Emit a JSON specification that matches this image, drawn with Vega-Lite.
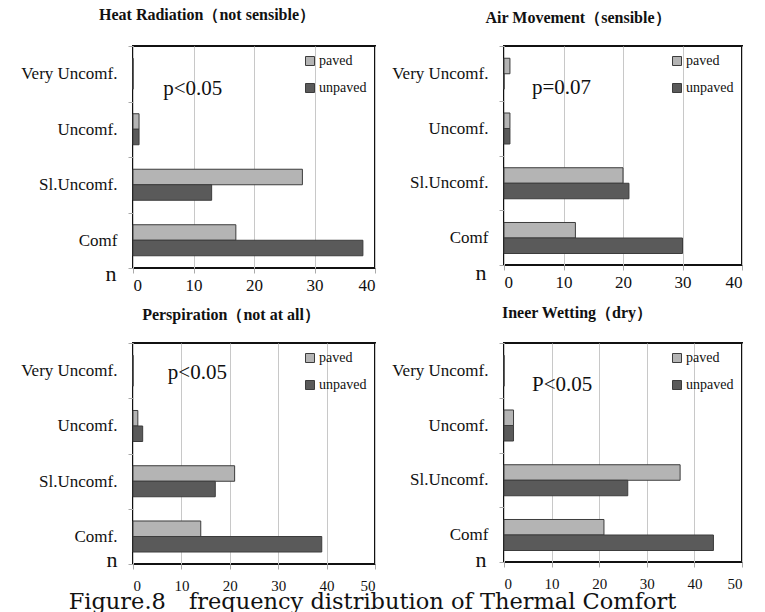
{
  "$schema": "https://vega.github.io/schema/vega-lite/v6.json",
  "background": "white",
  "padding": {"left": 19, "top": 6, "right": 0, "bottom": 0},
  "datasets": {
    "bars": [
      {"panel": "heat", "rating": "Very Uncomf.", "surface": "paved", "n": 0},
      {"panel": "heat", "rating": "Very Uncomf.", "surface": "unpaved", "n": 0},
      {"panel": "heat", "rating": "Uncomf.", "surface": "paved", "n": 1},
      {"panel": "heat", "rating": "Uncomf.", "surface": "unpaved", "n": 1},
      {"panel": "heat", "rating": "Sl.Uncomf.", "surface": "paved", "n": 28},
      {"panel": "heat", "rating": "Sl.Uncomf.", "surface": "unpaved", "n": 13},
      {"panel": "heat", "rating": "Comf", "surface": "paved", "n": 17},
      {"panel": "heat", "rating": "Comf", "surface": "unpaved", "n": 38},
      {"panel": "air", "rating": "Very Uncomf.", "surface": "paved", "n": 1},
      {"panel": "air", "rating": "Very Uncomf.", "surface": "unpaved", "n": 0},
      {"panel": "air", "rating": "Uncomf.", "surface": "paved", "n": 1},
      {"panel": "air", "rating": "Uncomf.", "surface": "unpaved", "n": 1},
      {"panel": "air", "rating": "Sl.Uncomf.", "surface": "paved", "n": 20},
      {"panel": "air", "rating": "Sl.Uncomf.", "surface": "unpaved", "n": 21},
      {"panel": "air", "rating": "Comf", "surface": "paved", "n": 12},
      {"panel": "air", "rating": "Comf", "surface": "unpaved", "n": 30},
      {"panel": "persp", "rating": "Very Uncomf.", "surface": "paved", "n": 0},
      {"panel": "persp", "rating": "Very Uncomf.", "surface": "unpaved", "n": 0},
      {"panel": "persp", "rating": "Uncomf.", "surface": "paved", "n": 1},
      {"panel": "persp", "rating": "Uncomf.", "surface": "unpaved", "n": 2},
      {"panel": "persp", "rating": "Sl.Uncomf.", "surface": "paved", "n": 21},
      {"panel": "persp", "rating": "Sl.Uncomf.", "surface": "unpaved", "n": 17},
      {"panel": "persp", "rating": "Comf.", "surface": "paved", "n": 14},
      {"panel": "persp", "rating": "Comf.", "surface": "unpaved", "n": 39},
      {"panel": "wet", "rating": "Very Uncomf.", "surface": "paved", "n": 0},
      {"panel": "wet", "rating": "Very Uncomf.", "surface": "unpaved", "n": 0},
      {"panel": "wet", "rating": "Uncomf.", "surface": "paved", "n": 2},
      {"panel": "wet", "rating": "Uncomf.", "surface": "unpaved", "n": 2},
      {"panel": "wet", "rating": "Sl.Uncomf.", "surface": "paved", "n": 37},
      {"panel": "wet", "rating": "Sl.Uncomf.", "surface": "unpaved", "n": 26},
      {"panel": "wet", "rating": "Comf", "surface": "paved", "n": 21},
      {"panel": "wet", "rating": "Comf", "surface": "unpaved", "n": 44}
    ],
    "notes": [
      {"panel": "heat", "label": "p<0.05", "n": 5, "rating": "Very Uncomf."},
      {"panel": "air", "label": "p=0.07", "n": 4.7, "rating": "Very Uncomf."},
      {"panel": "persp", "label": "p<0.05", "n": 7.2, "rating": "Very Uncomf."},
      {"panel": "wet", "label": "P<0.05", "n": 5.9, "rating": "Very Uncomf."}
    ]
  },
  "columns": 2,
  "bounds": "flush",
  "spacing": {"row": 75, "column": 129},
  "resolve": {"scale": {"color": "independent", "x": "independent", "y": "independent"}, "legend": {"color": "independent"}},
  "concat": [
    {
      "title": {"text": "Heat Radiation（not sensible）", "frame": "group", "anchor": "middle", "offset": 14, "dx": -47},
      "width": 242,
      "height": 222,
      "layer": [
        {
          "data": {"name": "bars"},
          "transform": [{"filter": "datum.panel === 'heat'"}],
          "mark": {"type": "bar", "stroke": "#3c3c3c", "strokeWidth": 1},
          "encoding": {
            "y": {"field": "rating", "type": "nominal", "scale": {"domain": ["Very Uncomf.", "Uncomf.", "Sl.Uncomf.", "Comf"], "paddingInner": 0, "paddingOuter": 0},
              "axis": {"title": "n", "titleX": -28, "titleY": 234}},
            "yOffset": {"field": "surface", "type": "nominal", "scale": {"domain": ["paved", "unpaved"], "paddingInner": 0, "paddingOuter": 0.79}},
            "x": {"field": "n", "type": "quantitative", "scale": {"domain": [0, 40]}, "axis": {"values": [0, 10, 20, 30, 40], "labelFontSize": 17, "labelPadding": 4, "title": null}},
            "color": {"field": "surface", "type": "nominal", "scale": {"domain": ["paved", "unpaved"], "range": ["#b4b4b4", "#5a5a5a"]}, "legend": {"title": null}}
          }
        },
        {
          "data": {"name": "notes"},
          "transform": [{"filter": "datum.panel === 'heat'"}],
          "mark": {"type": "text", "align": "left", "baseline": "middle", "dy": 15, "fontSize": 21, "fill": "#111"},
          "encoding": {
            "x": {"field": "n", "type": "quantitative"},
            "y": {"field": "rating", "type": "nominal"},
            "text": {"field": "label"}
          }
        }
      ]
    },
    {
      "title": {"text": "Air Movement（sensible）", "frame": "group", "anchor": "middle", "offset": 11, "dx": -45},
      "width": 238,
      "height": 219,
      "layer": [
        {
          "data": {"name": "bars"},
          "transform": [{"filter": "datum.panel === 'air'"}],
          "mark": {"type": "bar", "stroke": "#3c3c3c", "strokeWidth": 1},
          "encoding": {
            "y": {"field": "rating", "type": "nominal", "scale": {"domain": ["Very Uncomf.", "Uncomf.", "Sl.Uncomf.", "Comf"], "paddingInner": 0, "paddingOuter": 0},
              "axis": {"title": "n", "titleX": -29, "titleY": 233}},
            "yOffset": {"field": "surface", "type": "nominal", "scale": {"domain": ["paved", "unpaved"], "paddingInner": 0, "paddingOuter": 0.79}},
            "x": {"field": "n", "type": "quantitative", "scale": {"domain": [0, 40]}, "axis": {"values": [0, 10, 20, 30, 40], "labelFontSize": 17, "labelPadding": 4, "title": null}},
            "color": {"field": "surface", "type": "nominal", "scale": {"domain": ["paved", "unpaved"], "range": ["#b4b4b4", "#5a5a5a"]}, "legend": {"title": null}}
          }
        },
        {
          "data": {"name": "notes"},
          "transform": [{"filter": "datum.panel === 'air'"}],
          "mark": {"type": "text", "align": "left", "baseline": "middle", "dy": 15, "fontSize": 21, "fill": "#111"},
          "encoding": {
            "x": {"field": "n", "type": "quantitative"},
            "y": {"field": "rating", "type": "nominal"},
            "text": {"field": "label"}
          }
        }
      ]
    },
    {
      "title": {"text": "Perspiration（not at all）", "frame": "group", "anchor": "middle", "offset": 11, "dx": -23},
      "width": 242,
      "height": 221,
      "layer": [
        {
          "data": {"name": "bars"},
          "transform": [{"filter": "datum.panel === 'persp'"}],
          "mark": {"type": "bar", "stroke": "#3c3c3c", "strokeWidth": 1},
          "encoding": {
            "y": {"field": "rating", "type": "nominal", "scale": {"domain": ["Very Uncomf.", "Uncomf.", "Sl.Uncomf.", "Comf."], "paddingInner": 0, "paddingOuter": 0},
              "axis": {"title": "n", "titleX": -27, "titleY": 223}},
            "yOffset": {"field": "surface", "type": "nominal", "scale": {"domain": ["paved", "unpaved"], "paddingInner": 0, "paddingOuter": 0.79}},
            "x": {"field": "n", "type": "quantitative", "scale": {"domain": [0, 50]},
              "axis": {"values": [0, 10, 20, 30, 40, 50], "labelFontSize": 15, "labelPadding": 9,
                "title": "Figure.8　frequency distribution of Thermal Comfort", "titleX": 239, "titleY": 44, "titleAlign": "center", "titleBaseline": "alphabetic",
                "titleFont": "DejaVu Serif", "titleFontSize": 22.5, "titleFontWeight": "normal", "titleColor": "#111"}},
            "color": {"field": "surface", "type": "nominal", "scale": {"domain": ["paved", "unpaved"], "range": ["#b4b4b4", "#5a5a5a"]}, "legend": {"title": null}}
          }
        },
        {
          "data": {"name": "notes"},
          "transform": [{"filter": "datum.panel === 'persp'"}],
          "mark": {"type": "text", "align": "left", "baseline": "middle", "dy": 2, "fontSize": 21, "fill": "#111"},
          "encoding": {
            "x": {"field": "n", "type": "quantitative"},
            "y": {"field": "rating", "type": "nominal"},
            "text": {"field": "label"}
          }
        }
      ]
    },
    {
      "title": {"text": "Ineer Wetting（dry）", "frame": "group", "anchor": "middle", "offset": 13, "dx": -46},
      "width": 238,
      "height": 219,
      "layer": [
        {
          "data": {"name": "bars"},
          "transform": [{"filter": "datum.panel === 'wet'"}],
          "mark": {"type": "bar", "stroke": "#3c3c3c", "strokeWidth": 1},
          "encoding": {
            "y": {"field": "rating", "type": "nominal", "scale": {"domain": ["Very Uncomf.", "Uncomf.", "Sl.Uncomf.", "Comf"], "paddingInner": 0, "paddingOuter": 0},
              "axis": {"title": "n", "titleX": -29, "titleY": 223}},
            "yOffset": {"field": "surface", "type": "nominal", "scale": {"domain": ["paved", "unpaved"], "paddingInner": 0, "paddingOuter": 0.79}},
            "x": {"field": "n", "type": "quantitative", "scale": {"domain": [0, 50]}, "axis": {"values": [0, 10, 20, 30, 40, 50], "labelFontSize": 15, "labelPadding": 9, "title": null}},
            "color": {"field": "surface", "type": "nominal", "scale": {"domain": ["paved", "unpaved"], "range": ["#b4b4b4", "#5a5a5a"]}, "legend": {"title": null}}
          }
        },
        {
          "data": {"name": "notes"},
          "transform": [{"filter": "datum.panel === 'wet'"}],
          "mark": {"type": "text", "align": "left", "baseline": "middle", "dy": 15, "fontSize": 21, "fill": "#111"},
          "encoding": {
            "x": {"field": "n", "type": "quantitative"},
            "y": {"field": "rating", "type": "nominal"},
            "text": {"field": "label"}
          }
        }
      ]
    }
  ],
  "config": {
    "font": "Liberation Serif",
    "view": {"stroke": "#111", "strokeWidth": 2},
    "title": {"font": "Liberation Serif", "fontSize": 16, "fontWeight": "bold", "color": "#111"},
    "axis": {
      "domain": false,
      "tickColor": "#aaaaaa",
      "tickSize": 5,
      "labelFont": "Liberation Serif",
      "labelColor": "#111",
      "gridColor": "#c8c8c8",
      "gridWidth": 1
    },
    "axisX": {"grid": true, "labelAngle": 0},
    "axisY": {
      "grid": false,
      "tickBand": "extent",
      "labelFontSize": 17,
      "labelPadding": 11,
      "titleAngle": 0,
      "titleAlign": "left",
      "titleBaseline": "alphabetic",
      "titleFont": "Liberation Serif",
      "titleFontSize": 22,
      "titleFontWeight": "normal",
      "titleColor": "#111"
    },
    "legend": {
      "orient": "top-right",
      "offset": 8,
      "padding": 0,
      "symbolType": "square",
      "symbolSize": 81,
      "symbolStrokeColor": "#3c3c3c",
      "symbolStrokeWidth": 1,
      "labelFont": "Liberation Serif",
      "labelFontSize": 14,
      "labelColor": "#111",
      "labelOffset": 2,
      "rowPadding": 13
    }
  }
}
